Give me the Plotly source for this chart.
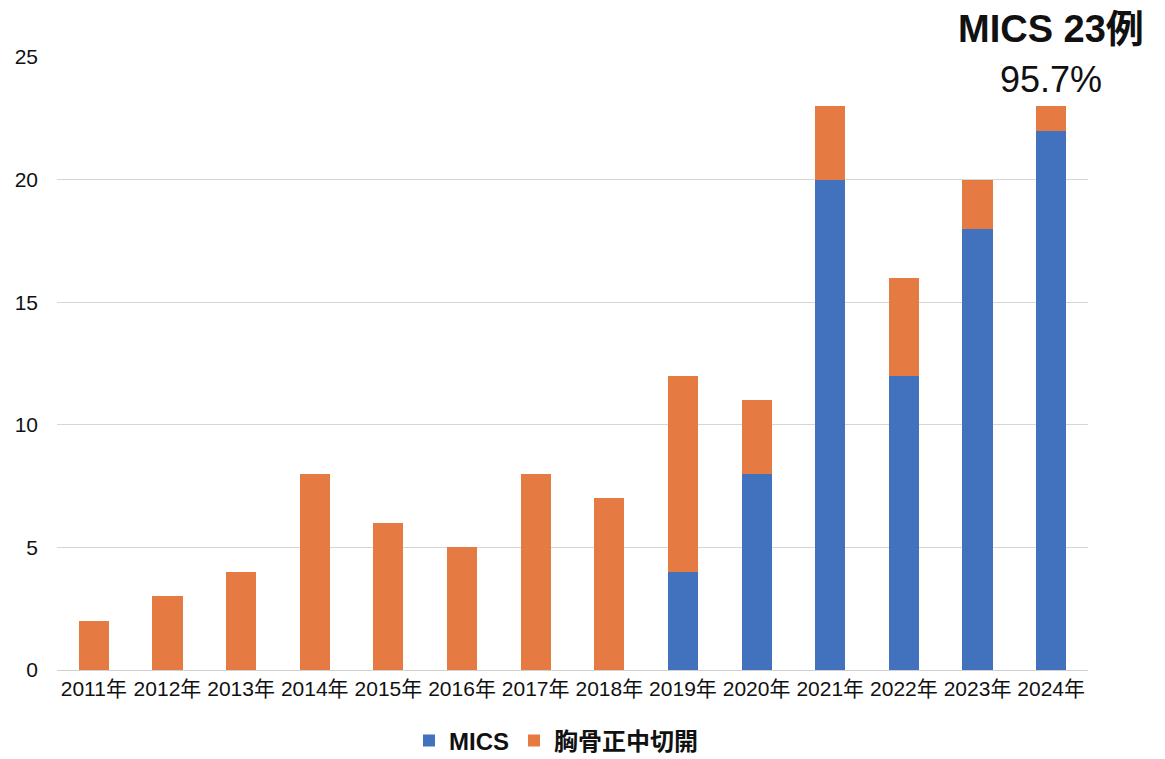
import plotly.graph_objects as go

years = ["2011年", "2012年", "2013年", "2014年", "2015年", "2016年", "2017年",
         "2018年", "2019年", "2020年", "2021年", "2022年", "2023年", "2024年"]
mics = [0, 0, 0, 0, 0, 0, 0, 0, 4, 8, 20, 12, 18, 22]
sternotomy = [2, 3, 4, 8, 6, 5, 8, 7, 8, 3, 3, 4, 2, 1]
y_ticks = [0, 5, 10, 15, 20, 25]

font_family = "Liberation Sans, Arial, Noto Sans CJK JP, sans-serif"

fig = go.Figure()
fig.add_trace(go.Bar(x=years, y=mics, name="MICS", marker_color="#4272BD",
                     marker_line_width=0))
fig.add_trace(go.Bar(x=years, y=sternotomy, name="胸骨正中切開", marker_color="#E57A42",
                     marker_line_width=0))

fig.update_layout(
    barmode="stack",
    bargap=0.59,
    width=1157, height=751,
    margin=dict(l=49, r=77, t=49, b=89, autoexpand=False),
    paper_bgcolor="white", plot_bgcolor="white",
    font=dict(family=font_family, color="#111111", size=21),
    showlegend=True,
    legend=dict(orientation="h", x=0.484, xanchor="center",
                yref="container", y=1 - 733 / 751, yanchor="middle",
                font=dict(size=24, family="Liberation Sans, Noto Sans CJK JP, sans-serif",
                          weight="bold", color="#111111"),
                itemwidth=30, traceorder="normal"),
    xaxis=dict(range=[-0.5, len(years) - 0.5], showgrid=False, showline=True,
               linecolor="#d0d0d0", linewidth=1,
               ticks="", tickfont=dict(size=21), automargin=False),
    yaxis=dict(range=[0, 25], tickvals=y_ticks, showgrid=True, gridcolor="#d6d6d6",
               gridwidth=1, zeroline=False, ticks="", tickfont=dict(size=21),
               ticklabelstandoff=18, automargin=False),
)

fig.add_annotation(x=years[-1], y=1.0, xref="x", yref="paper", yshift=28,
                   text="<b>MICS 23例</b>", showarrow=False,
                   font=dict(size=38, color="#111111"), xanchor="center", yanchor="middle")
fig.add_annotation(x=years[-1], y=1.0, xref="x", yref="paper", yshift=-22,
                   text="95.7%", showarrow=False,
                   font=dict(size=36, color="#111111"), xanchor="center", yanchor="middle")

fig.write_html("out.html")
